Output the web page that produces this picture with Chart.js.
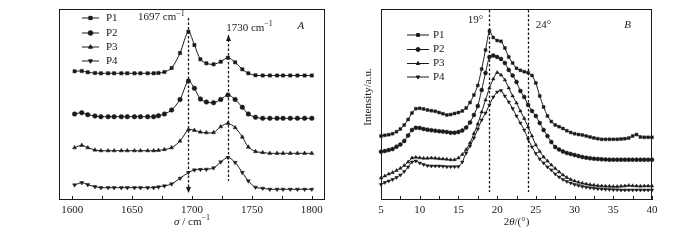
<!DOCTYPE html>
<html>
<head>
<meta charset="utf-8">
<script src="https://cdn.jsdelivr.net/npm/chart.js@4.4.1/dist/chart.umd.min.js"></script>
<style>
  html, body { margin: 0; padding: 0; background: #fff; }
  #wrap { position: relative; width: 700px; height: 240px; }
  .panel { position: absolute; top: 0; width: 350px; height: 240px; }
  #panelA { left: 0; }
  #panelB { left: 350px; }
</style>
</head>
<body>
<div id="wrap">
  <div class="panel" id="panelA"><canvas id="chartA"></canvas></div>
  <div class="panel" id="panelB"><canvas id="chartB"></canvas></div>
</div>
<script>
// ---- panel A: FTIR, wavenumber (cm-1) ----
const xA = [1602, 1608, 1613, 1619, 1624, 1630, 1635, 1641, 1646, 1652, 1657, 1663, 1668, 1672, 1677, 1683, 1690, 1697,
  1702, 1707, 1712, 1718, 1724, 1730, 1736, 1742, 1747, 1753, 1759, 1765, 1771, 1776, 1782, 1788, 1794, 1800];
const p1A = [128.7, 129, 127.7, 127, 126.7, 126.7, 126.7, 126.7, 126.7, 126.7, 126.7, 126.7, 126.7, 127, 128, 132, 147, 168.3,
  155, 140.7, 136.7, 135.7, 138.3, 142.3, 137.7, 130.7, 126.7, 124.7, 124.5, 124.5, 124.5, 124.5, 124.5, 124.5, 124.5, 124.5];
const p2A = [86, 87.3, 85.3, 84, 83.3, 83.3, 83.3, 83.3, 83.3, 83.3, 83.3, 83.3, 83.3, 84.3, 86, 90, 100.5, 119,
  111.7, 101, 98, 97.3, 100.5, 105, 100.5, 92.7, 86, 82.7, 81.7, 81.7, 81.7, 81.7, 81.7, 81.7, 81.7, 81.7];
const p3A = [52.3, 54.7, 52.3, 50, 49.3, 49.3, 49.3, 49.3, 49.3, 49.3, 49.3, 49.3, 49.3, 49.7, 50.5, 52.3, 59, 70.3,
  69.7, 68, 67.3, 67.5, 73.3, 76.7, 72.3, 63, 53, 48.5, 47.5, 46.7, 46.7, 46.7, 46.7, 46.7, 46.7, 46.7];
const p4A = [15, 17.3, 15.3, 13.3, 12.3, 12.3, 12.3, 12.3, 12.3, 12.3, 12.3, 12.3, 12.3, 13, 14, 16, 21.7, 27.5,
  30, 30.5, 30.7, 32, 38, 42.5, 37.5, 27.5, 19, 12.7, 11.7, 10.7, 10.7, 10.7, 10.7, 10.7, 10.7, 10.7];
const ticksA = [1600, 1625, 1650, 1675, 1700, 1725, 1750, 1775, 1800];

// ---- panel B: XRD, 2theta (deg) ----
const xB = [5, 5.5, 6, 6.5, 7, 7.5, 8, 8.5, 9, 9.5, 10, 10.5, 11, 11.5, 12, 12.5, 13, 13.5, 14, 14.5,
  15, 15.5, 16, 16.5, 17, 17.5, 18, 18.5, 19, 19.5, 20, 20.5, 21, 21.5, 22, 22.5, 23, 23.5, 24, 24.5,
  25, 25.5, 26, 26.5, 27, 27.5, 28, 28.5, 29, 29.5, 30, 30.5, 31, 31.5, 32, 32.5, 33, 33.5, 34, 34.5,
  35, 35.5, 36, 36.5, 37, 37.5, 38, 38.5, 39, 39.5, 40];
const p1B = [64, 64.7, 65.3, 66.3, 68.3, 71, 75, 80.5, 87, 91.3, 91.7, 91, 90, 89.3, 88.7, 87.5, 86.3, 85, 85.5, 86.5,
  87.5, 89, 92, 97.5, 105, 114.5, 131, 150, 169, 162.5, 159.5, 158.7, 152, 143, 137, 131.7, 129.7, 128.3, 127.3, 124.5,
  117, 104, 93, 84, 78.5, 75, 73.3, 71.5, 69.3, 67.5, 66.3, 65.5, 65, 64, 63, 62, 61.3, 60.7, 60.7, 60.7,
  60.7, 60.7, 61, 61.3, 62, 64, 65.5, 63, 62.7, 62.7, 62.7];
const p2B = [48.3, 49, 50, 51, 53.3, 55.5, 59, 64.5, 70, 72.2, 72, 71, 70.3, 69.8, 69.2, 68.8, 68.4, 68, 67.3, 67.3,
  68, 69.5, 72.5, 77.5, 85, 94, 110, 127, 143, 144.5, 143, 141, 137, 130, 124.5, 118, 109, 103, 95, 89,
  84, 77, 70, 64, 58, 53, 50.5, 48.5, 47, 46, 45, 44, 43, 42.3, 41.7, 41.3, 41, 40.7, 40.5, 40.3,
  40.3, 40.3, 40.3, 40.3, 40.3, 40.3, 40.3, 40.3, 40.3, 40.3, 40.3];
const p3B = [22, 24, 26, 27.5, 29.5, 31.7, 34.5, 38, 42, 42.7, 42.2, 41.7, 41.7, 42, 41.8, 41.3, 41, 40.7, 40.2, 40.3,
  42, 45.5, 50.5, 57, 66.5, 76, 88, 100, 112, 121, 127.5, 125, 120, 112, 104, 97, 89, 81.5, 73, 64,
  55, 48.5, 43, 39, 35, 31.5, 28, 25, 22.5, 20.5, 19, 17.8, 16.8, 16, 15.3, 14.8, 14.3, 14, 13.8, 13.7,
  13.5, 13.5, 13.8, 14, 14.5, 14.2, 14, 13.8, 14, 14, 14];
const p4B = [15.5, 17.5, 19, 20.5, 22.5, 25, 28.5, 33, 38, 39, 37, 35.5, 34.3, 34, 34, 34, 33.7, 33.3, 33.3, 33.3,
  33.5, 38, 47, 54, 62, 71, 80, 87, 95, 103, 108, 109.5, 104, 98, 91.5, 84, 77, 70, 61, 53,
  46.5, 41, 37, 33, 30, 26, 23, 20.5, 18.5, 17, 15.5, 14.5, 13.5, 12.8, 12.2, 11.7, 11.3, 11, 10.7, 10.5,
  10.3, 10.2, 10, 10, 10, 10, 10, 10, 10, 10, 10];
const ticksB = [5, 7.5, 10, 12.5, 15, 17.5, 20, 22.5, 25, 27.5, 30, 32.5, 35, 37.5, 40];

const names = ['P1', 'P2', 'P3', 'P4'];
const markers = ['rect', 'circle', 'triangle', 'triangle'];
const rotations = [0, 0, 0, 180];

const SERIF = '"Liberation Serif", "Times New Roman", serif';
const INK = '#1a1a1a';

function toPoints(xs, ys) {
  return xs.map((x, i) => ({ x: x, y: ys[i] }));
}

function makeDatasets(xs, series, radius, tension) {
  return series.map((ys, i) => ({
    label: names[i],
    data: toPoints(xs, ys),
    borderColor: INK,
    backgroundColor: INK,
    borderWidth: 1,
    pointStyle: markers[i],
    pointRotation: rotations[i],
    pointRadius: radius,
    pointBorderWidth: 0.5,
    tension: tension,
    clip: 4
  }));
}

// text with italic / superscript pieces
function drawRich(ctx, parts, x, y, align) {
  const fontOf = p => (p.it ? 'italic ' : '') + (p.sup ? 8 : 11) + 'px ' + SERIF;
  let total = 0;
  parts.forEach(p => { ctx.font = fontOf(p); total += ctx.measureText(p.t).width; });
  let cx = align === 'center' ? x - total / 2 : x;
  ctx.textAlign = 'left';
  ctx.textBaseline = 'middle';
  parts.forEach(p => {
    ctx.font = fontOf(p);
    ctx.fillText(p.t, cx, p.sup ? y - 4 : y);
    cx += ctx.measureText(p.t).width;
  });
}

function drawMarker(ctx, style, rotation, r, x, y) {
  if (window.Chart && Chart.helpers && Chart.helpers.drawPoint) {
    Chart.helpers.drawPoint(ctx, { pointStyle: style, rotation: rotation, radius: r, borderWidth: 0.5 }, x, y);
  }
}

const decor = {
  id: 'decor',
  afterDraw(chart, args, opts) {
    const { ctx, chartArea: a, scales: { x, y } } = chart;
    ctx.save();
    ctx.strokeStyle = INK;
    ctx.fillStyle = INK;

    // frame
    ctx.lineWidth = 1;
    ctx.setLineDash([]);
    ctx.strokeRect(Math.round(a.left) + 0.5, Math.round(a.top) + 0.5, Math.round(a.width) - 1, Math.round(a.height) - 1);

    // inward tick marks
    ctx.beginPath();
    x.ticks.forEach(t => {
      const px = Math.round(x.getPixelForValue(t.value)) + 0.5;
      ctx.moveTo(px, a.bottom);
      ctx.lineTo(px, a.bottom - 4);
    });
    ctx.stroke();

    // dashed reference lines
    (opts.lines || []).forEach(l => {
      const px = Math.round(x.getPixelForValue(l.at)) + 0.5;
      const y1 = y.getPixelForValue(l.from);
      const y2 = y.getPixelForValue(l.to);
      ctx.lineWidth = 1.3;
      ctx.setLineDash([2.5, 2]);
      ctx.beginPath();
      ctx.moveTo(px, y1);
      ctx.lineTo(px, y2);
      ctx.stroke();
      ctx.setLineDash([]);
      if (l.arrow) {
        const tip = l.arrow === 'down' ? y2 : y1;
        const dir = l.arrow === 'down' ? 1 : -1;
        ctx.beginPath();
        ctx.moveTo(px, tip);
        ctx.lineTo(px - 2.5, tip - dir * 6);
        ctx.lineTo(px + 2.5, tip - dir * 6);
        ctx.closePath();
        ctx.fill();
      }
    });

    // annotations
    (opts.notes || []).forEach(n => {
      drawRich(ctx, n.parts, x.getPixelForValue(n.x), y.getPixelForValue(n.y), 'left');
    });

    // legend
    const lg = opts.legend;
    chart.data.datasets.forEach((ds, i) => {
      const ly = lg.rows[i];
      ctx.lineWidth = 1;
      ctx.beginPath();
      ctx.moveTo(lg.x1, ly);
      ctx.lineTo(lg.x2, ly);
      ctx.stroke();
      drawMarker(ctx, ds.pointStyle, ds.pointRotation, ds.pointRadius, (lg.x1 + lg.x2) / 2, ly);
      drawRich(ctx, [{ t: ds.label }], lg.tx, ly, 'left');
    });

    // axis titles
    drawRich(ctx, opts.xTitle, (a.left + a.right) / 2 + (opts.xTitleShift || 0), 222, 'center');
    if (opts.yTitle) {
      ctx.save();
      ctx.translate(opts.yTitle.x, opts.yTitle.y);
      ctx.rotate(-Math.PI / 2);
      drawRich(ctx, [{ t: opts.yTitle.text }], 0, 0, 'center');
      ctx.restore();
    }
    ctx.restore();
  }
};

function makeChart(canvasId, cfg) {
  return new Chart(document.getElementById(canvasId), {
    type: 'line',
    data: { datasets: cfg.datasets },
    options: {
      responsive: true,
      maintainAspectRatio: false,
      animation: false,
      layout: { padding: cfg.padding },
      plugins: { legend: { display: false }, tooltip: { enabled: false }, decor: cfg.decor },
      scales: {
        x: {
          type: 'linear',
          min: cfg.xMin,
          max: cfg.xMax,
          afterBuildTicks: s => { s.ticks = cfg.ticks.map(v => ({ value: v })); },
          afterFit: s => { s.height = 40; },
          grid: { display: false, drawTicks: false },
          border: { display: false },
          ticks: {
            autoSkip: false,
            maxRotation: 0,
            padding: 4,
            color: INK,
            font: { family: SERIF, size: 11 },
            callback: cfg.tickLabel
          }
        },
        y: { display: false, min: 0, max: 191 }
      }
    },
    plugins: [decor]
  });
}

makeChart('chartA', {
  datasets: makeDatasets(xA, [p1A, p2A, p3A, p4A], 2.3, 0.3),
  padding: { left: 59, right: 25, top: 9, bottom: 0 },
  xMin: 1589, xMax: 1811,
  ticks: ticksA,
  tickLabel: v => (v % 50 === 0 ? v : ''),
  decor: {
    lines: [
      { at: 1697, from: 182, to: 7, arrow: 'down' },
      { at: 1730, from: 165, to: 19, arrow: 'up' }
    ],
    notes: [
      { x: 1655, y: 182.5, parts: [{ t: '1697 cm' }, { t: '−1', sup: true }] },
      { x: 1728.5, y: 172, parts: [{ t: '1730 cm' }, { t: '−1', sup: true }] },
      { x: 1788, y: 174, parts: [{ t: 'A', it: true }] }
    ],
    legend: { x1: 82, x2: 99, tx: 106, rows: [18, 33, 47, 61] },
    xTitle: [{ t: 'σ', it: true }, { t: ' / cm' }, { t: '−1', sup: true }]
  }
});

makeChart('chartB', {
  datasets: makeDatasets(xB, [p1B, p2B, p3B, p4B], 2, 0.2),
  padding: { left: 31, right: 48, top: 9, bottom: 0 },
  xMin: 5, xMax: 40,
  ticks: ticksB,
  tickLabel: v => (v % 5 === 0 ? v : ''),
  decor: {
    lines: [
      { at: 19, from: 190, to: 8 },
      { at: 24, from: 190, to: 8 }
    ],
    notes: [
      { x: 16.2, y: 180, parts: [{ t: '19°' }] },
      { x: 25, y: 175, parts: [{ t: '24°' }] },
      { x: 36.4, y: 175, parts: [{ t: 'B', it: true }] }
    ],
    legend: { x1: 57, x2: 79, tx: 83, rows: [35, 49.5, 63.5, 77] },
    xTitle: [{ t: '2' }, { t: 'θ', it: true }, { t: '/(°)' }],
    xTitleShift: 0,
    yTitle: { text: 'Intensity/a.u.', x: 18, y: 97 }
  }
});
</script>
</body>
</html>
